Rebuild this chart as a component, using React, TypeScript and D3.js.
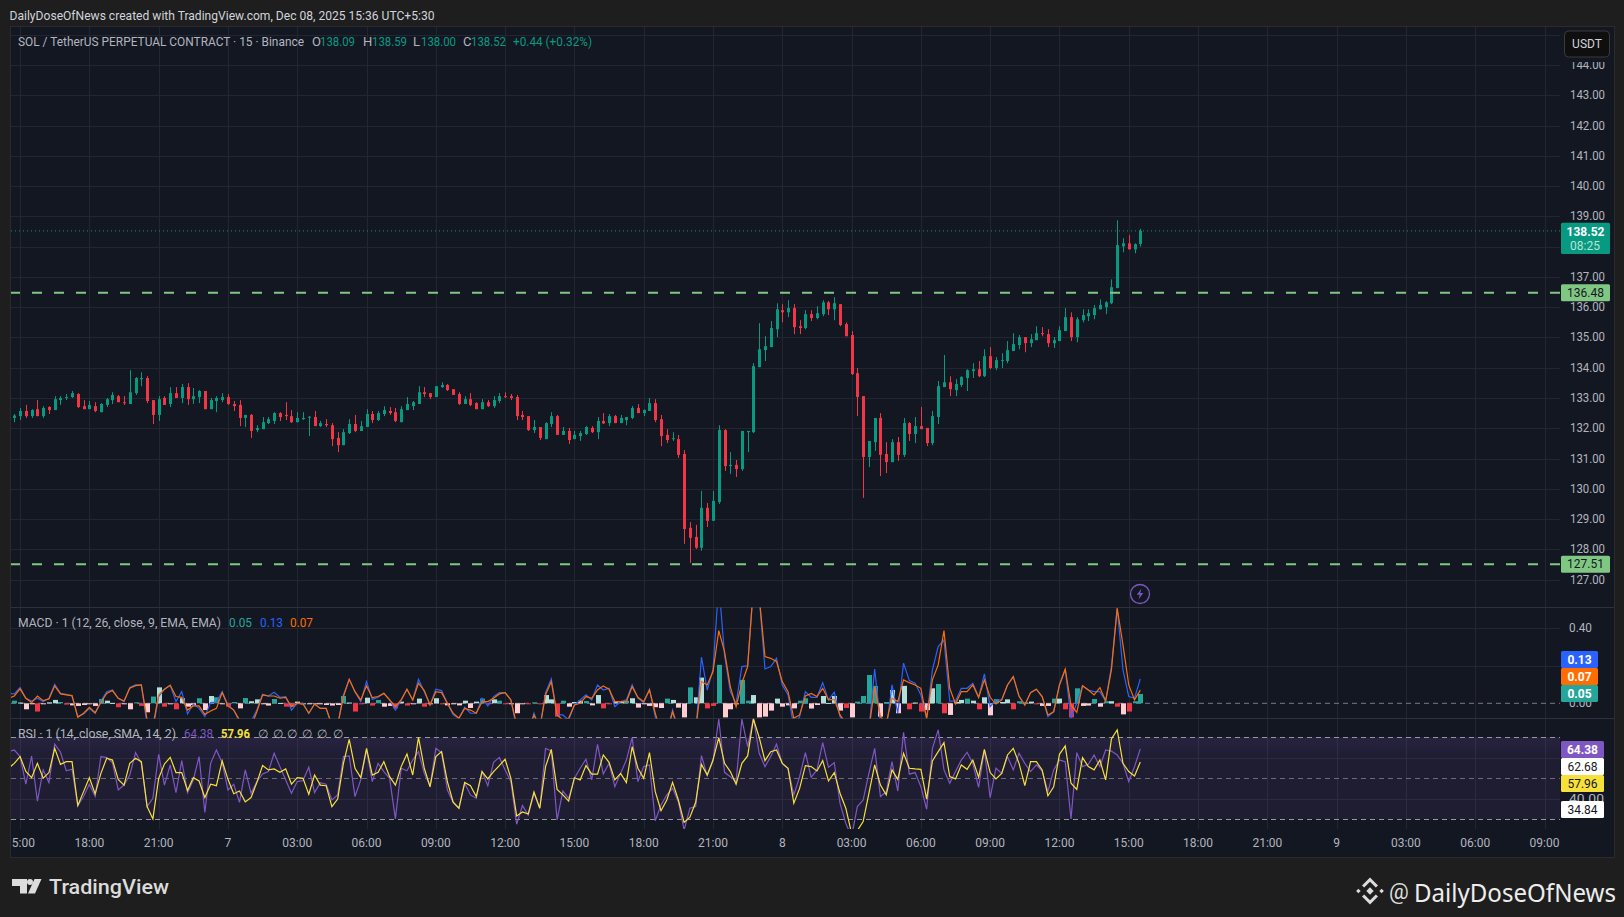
import React from 'react';
import * as d3 from 'd3';

// open, high, low, close of every 15 minute bar
const ohlc: number[][] = [
  [132.34,132.47,132.20,132.42],[132.40,132.67,132.27,132.57],[132.57,132.77,132.34,132.40],[132.40,132.63,132.34,132.60],
  [132.63,132.93,132.40,132.40],[132.40,132.73,132.34,132.67],[132.70,132.73,132.47,132.60],[132.60,133.06,132.60,132.96],
  [132.93,133.06,132.77,133.00],[133.00,133.13,132.93,133.03],[133.03,133.23,133.00,133.16],[133.13,133.16,132.67,132.70],
  [132.73,132.93,132.63,132.63],[132.63,132.90,132.63,132.77],[132.73,132.86,132.53,132.57],[132.53,132.83,132.53,132.80],
  [132.77,133.00,132.70,132.96],[132.93,133.19,132.80,133.10],[133.06,133.10,132.86,132.86],[132.86,133.06,132.77,132.83],
  [132.80,133.92,132.80,133.19],[133.16,133.69,133.10,133.66],[133.62,133.85,133.39,133.66],[133.66,133.72,132.83,132.90],
  [132.93,132.93,132.14,132.44],[132.44,133.06,132.24,132.96],[133.00,133.06,132.77,132.77],[132.80,133.36,132.70,133.16],
  [133.16,133.36,133.00,133.00],[133.00,133.46,132.83,133.36],[133.36,133.49,132.77,132.96],[132.96,133.33,132.80,133.06],
  [133.03,133.26,132.83,133.23],[133.23,133.23,132.63,132.63],[132.63,133.00,132.63,132.93],[132.90,133.06,132.53,133.00],
  [132.93,133.16,132.86,133.03],[133.03,133.13,132.77,132.80],[132.80,132.90,132.57,132.73],[132.77,132.93,132.07,132.34],
  [132.34,132.44,132.04,132.44],[132.44,132.47,131.68,131.91],[131.94,132.10,131.87,132.01],[131.97,132.37,131.97,132.20],
  [132.17,132.37,132.14,132.30],[132.24,132.53,132.14,132.50],[132.50,132.53,132.24,132.37],[132.44,132.86,132.27,132.40],
  [132.40,132.60,132.17,132.20],[132.20,132.53,132.20,132.34],[132.30,132.53,132.27,132.34],[132.36,132.40,131.74,132.38],
  [132.37,132.57,132.07,132.07],[132.07,132.24,132.04,132.17],[132.14,132.30,132.04,132.10],[132.10,132.17,131.41,131.64],
  [131.68,131.87,131.21,131.44],[131.44,131.97,131.44,131.87],[131.84,132.30,131.81,132.14],[132.14,132.44,131.87,131.91],
  [131.91,132.24,131.91,132.07],[132.04,132.63,132.04,132.47],[132.47,132.57,132.17,132.27],[132.27,132.57,132.24,132.50],
  [132.47,132.73,132.40,132.60],[132.57,132.70,132.44,132.50],[132.53,132.67,132.20,132.24],[132.20,132.73,132.20,132.63],
  [132.60,133.03,132.60,132.80],[132.73,132.90,132.60,132.86],[132.80,133.39,132.80,133.19],[133.19,133.36,133.03,133.13],
  [133.16,133.16,132.96,133.03],[133.03,133.39,133.03,133.39],[133.36,133.52,133.33,133.43],[133.43,133.46,133.23,133.26],
  [133.29,133.29,133.10,133.10],[133.13,133.19,132.77,132.80],[132.80,133.06,132.80,132.96],[132.96,133.16,132.73,132.77],
  [132.83,132.86,132.63,132.63],[132.63,132.96,132.63,132.86],[132.86,132.93,132.70,132.73],[132.73,133.06,132.67,132.93],
  [132.90,133.16,132.83,133.06],[133.06,133.19,133.00,133.03],[133.06,133.13,132.93,133.00],[133.03,133.10,132.27,132.40],
  [132.44,132.57,132.27,132.37],[132.40,132.40,131.91,131.94],[131.94,132.27,131.84,132.04],[132.04,132.04,131.61,131.68],
  [131.64,132.20,131.64,132.17],[132.14,132.53,132.04,132.40],[132.40,132.44,131.78,131.78],[131.78,132.04,131.78,131.91],
  [131.91,132.01,131.48,131.61],[131.64,131.91,131.64,131.78],[131.74,131.91,131.58,131.84],[131.81,132.07,131.78,132.04],
  [132.01,132.07,131.84,131.87],[131.87,132.37,131.64,132.24],[132.24,132.50,132.14,132.16],[132.17,132.47,132.07,132.40],
  [132.40,132.44,132.17,132.17],[132.17,132.44,132.17,132.34],[132.27,132.37,132.10,132.37],[132.34,132.73,132.30,132.67],
  [132.67,132.80,132.50,132.50],[132.50,132.63,132.40,132.60],[132.57,133.00,132.57,132.83],[132.83,132.96,132.20,132.27],
  [132.30,132.44,131.41,131.74],[131.78,131.97,131.51,131.61],[131.64,131.87,131.58,131.67],[131.64,131.78,131.02,131.12],
  [131.15,131.28,128.18,128.67],[128.71,128.90,127.55,128.38],[128.41,128.81,128.01,128.05],[128.05,129.93,127.95,129.37],
  [129.37,129.53,128.74,128.94],[128.94,129.93,128.94,129.60],[129.56,132.10,129.50,131.94],[131.94,131.97,130.59,130.75],
  [130.75,131.21,130.49,130.79],[130.79,130.95,130.39,130.65],[130.65,131.91,130.59,131.91],[131.87,131.91,131.21,131.91],
  [131.87,134.15,131.84,134.05],[134.02,135.47,134.02,134.61],[134.58,135.04,134.22,134.71],[134.68,135.54,134.68,135.31],
  [135.27,136.13,135.01,135.93],[135.90,136.10,135.50,135.83],[135.83,136.23,135.67,135.97],[135.97,136.10,135.11,135.34],
  [135.37,135.57,135.11,135.31],[135.31,135.90,135.27,135.77],[135.77,135.90,135.54,135.64],[135.64,136.03,135.60,135.80],
  [135.77,136.23,135.70,136.16],[136.16,136.20,135.74,135.93],[135.93,136.33,135.57,136.13],[136.10,136.10,135.37,135.41],
  [135.44,135.50,135.04,135.04],[135.08,135.21,133.76,133.79],[133.82,133.99,132.40,133.03],[133.06,133.06,129.70,131.05],
  [131.05,131.58,130.72,131.58],[131.54,132.34,131.25,132.34],[132.34,132.50,130.42,131.12],[131.15,131.54,130.52,130.88],
  [130.88,131.64,130.88,131.54],[131.54,131.71,130.92,131.12],[131.12,132.34,131.05,132.17],[132.17,132.20,131.58,131.81],
  [131.81,132.37,131.51,132.07],[132.07,132.70,131.97,131.97],[132.01,132.01,131.41,131.51],[131.51,132.57,131.44,132.40],
  [132.37,133.56,132.14,133.39],[133.36,134.42,133.36,133.52],[133.52,133.72,133.06,133.29],[133.26,133.62,133.06,133.46],
  [133.43,133.72,133.36,133.69],[133.66,133.95,133.23,133.92],[133.89,134.15,133.66,133.95],[133.95,134.22,133.69,133.72],
  [133.72,134.61,133.69,134.38],[134.38,134.68,133.95,133.99],[133.99,134.35,133.92,134.25],[134.22,134.48,133.99,134.25],
  [134.22,134.88,134.15,134.58],[134.55,135.14,134.55,134.78],[134.75,135.08,134.61,135.01],[135.01,135.01,134.51,134.81],
  [134.81,135.11,134.68,134.94],[134.91,135.37,134.91,135.14],[135.14,135.34,135.04,135.11],[135.11,135.27,134.68,134.81],
  [134.81,135.01,134.65,134.91],[134.88,135.37,134.88,135.24],[135.21,135.97,135.21,135.67],[135.67,135.83,134.88,135.01],
  [135.01,135.67,134.84,135.60],[135.57,135.93,135.50,135.74],[135.70,135.93,135.54,135.80],[135.74,136.07,135.60,135.97],
  [135.93,136.26,135.93,136.07],[136.00,136.20,135.77,136.16],[136.13,136.92,136.10,136.66],[136.63,138.87,136.63,138.05],
  [138.01,138.28,137.81,138.11],[138.11,138.38,137.91,137.91],[137.91,138.11,137.78,138.08],[138.09,138.59,138.00,138.52],
];

// first value of each line is the bar just off the left edge of the chart
const macdLine = [
  0.053,0.050,0.084,0.027,0.012,0.027,0.009,0.027,0.101,0.053,0.048,0.039,-0.071,-0.057,-0.027,-0.053,0.012,0.062,0.071,0.027,0.009,
  0.085,0.098,0.098,-0.116,-0.142,0.036,0.075,0.096,0.009,0.062,-0.057,-0.004,-0.027,-0.071,0.004,0.007,0.062,-0.009,-0.036,-0.098,
  -0.134,-0.098,-0.036,0.048,0.039,0.059,0.032,0.036,-0.036,0,0,-0.053,-0.004,-0.027,-0.027,-0.116,-0.116,0.045,0.128,0.062,
  0.009,0.116,0.021,0.032,0.053,0.018,-0.036,0.018,0.075,0.018,0.128,0.062,-0.009,0.075,0.068,0,-0.062,-0.080,-0.021,-0.053,
  -0.053,0.027,-0.014,0.036,0.057,0.057,0.018,-0.134,-0.160,-0.160,-0.053,-0.134,0.057,0.130,-0.062,-0.062,-0.089,-0.009,0.018,0.045,
  0.018,0.098,0.071,0.080,-0.018,0.009,0.018,0.098,0.027,0.004,0.075,-0.071,-0.160,-0.160,-0.036,-0.142,-0.160,-0.160,-0.160,0.246,
  0.071,0.178,0.641,0.258,0.062,0,0.196,0.201,0.623,0.570,0.183,0.196,0.240,0.098,0.045,-0.125,-0.071,0.062,0.032,0.032,
  0.110,0.018,0.059,-0.071,-0.107,-0.107,-0.125,-0.142,-0.142,0.182,-0.107,-0.142,0.098,-0.053,0.214,0.121,0.107,0.045,-0.080,0.178,
  0.303,0.338,0.012,0.012,0.080,0.080,0.107,0.032,0.157,-0.018,0.018,0.018,0.098,0.142,0.036,-0.009,0.057,0.075,0.036,-0.071,
  -0.045,0.098,0.182,-0.080,0,0.094,0.071,0.062,0.062,0.012,0.196,0.507,0.178,0.036,0.027,0.130,
];

const signalLine = [
  0.027,0.039,0.077,0.027,0.004,0.039,0.014,0.023,0.093,0.050,0.045,0.041,-0.075,-0.053,-0.021,-0.050,0.004,0.053,0.068,0.027,0.012,
  0.080,0.094,0.098,-0.089,-0.125,0.045,0.075,0.096,0.036,0.032,-0.036,-0.014,-0.014,-0.059,-0.041,-0.027,0.057,-0.014,-0.036,-0.089,
  -0.125,-0.125,-0.045,0.045,0.039,0.039,0.027,0.032,-0.018,0,-0.004,-0.053,-0.004,-0.027,-0.027,-0.116,-0.116,0.036,0.128,0.062,
  0.018,0.093,0.030,0.036,0.053,0.018,-0.018,0.018,0.075,0.018,0.107,0.068,-0.009,0.062,0.057,0,-0.053,-0.080,-0.027,-0.036,
  -0.053,0.009,0.009,0.027,0.050,0.057,0.018,-0.116,-0.160,-0.160,-0.062,-0.134,0.045,0.116,-0.062,-0.089,-0.080,-0.009,0,0.036,
  0.027,0.071,0.093,0.075,0.009,0.009,0.009,0.089,0.032,0.009,0.071,-0.053,-0.160,-0.160,-0.045,-0.142,-0.160,-0.160,-0.142,0.116,
  0.098,0.169,0.388,0.276,0.089,-0.018,0.107,0.196,0.623,0.570,0.249,0.240,0.223,0.116,0.062,-0.080,-0.062,0.039,0.053,0.036,
  0.080,0.018,0.021,-0.062,-0.107,-0.125,-0.142,-0.142,-0.142,0.089,-0.071,-0.107,0.027,0.009,0.125,0.110,0.098,0.080,-0.080,0.125,
  0.205,0.388,0.080,-0.004,0.062,0.062,0.098,0.032,0.125,0.032,-0.004,0.018,0.098,0.142,0.039,-0.009,0.057,0.075,0.036,-0.062,
  -0.045,0.098,0.182,-0.009,-0.048,0.094,0.071,0.045,0.084,0.012,0.178,0.507,0.312,0.098,0.018,0.070,
];

const macdHist = [
  0.014,0.004,-0.032,-0.002,-0.044,-0.005,0.005,0.018,0.007,-0.007,-0.011,-0.014,-0.009,-0.002,-0.014,0.023,0.014,0.002,-0.021,-0.002,
  -0.032,0.005,-0.014,-0.048,0.036,0.085,-0.018,-0.002,-0.032,0.027,-0.018,-0.009,0.027,-0.036,0.039,0.032,-0.002,-0.018,0.007,-0.027,
  0.028,0.011,0.021,-0.005,-0.012,0.023,0.002,-0.018,-0.018,0.009,0,-0.004,-0.002,-0.004,-0.009,-0.012,-0.009,0.039,0.004,-0.044,
  -0.005,0.030,-0.012,0.018,-0.018,-0.014,-0.027,0.009,-0.012,-0.005,0.025,-0.018,0,0.027,-0.005,-0.011,-0.005,-0.011,0.014,-0.025,
  0.009,0.025,-0.005,0.021,0.014,-0.005,-0.002,-0.053,-0.001,-0.002,0.005,-0.005,0.044,0.021,-0.071,0.014,-0.018,0.007,0.014,0.012,
  -0.011,0.044,-0.027,-0.002,0.011,0.011,0.014,0.027,-0.023,-0.001,-0.014,-0.021,-0.025,0.025,0.018,-0.023,-0.075,0.085,0.032,0.137,
  -0.027,-0.014,0.205,-0.075,-0.032,-0.002,0.125,0.014,0.044,-0.075,-0.071,-0.039,0.025,-0.018,-0.011,-0.027,0.014,0.027,-0.028,-0.009,
  0.039,0.002,0.039,-0.039,-0.025,-0.075,0.009,0.039,0.151,0.093,-0.071,0.007,0.071,-0.053,0.093,-0.032,0.004,-0.044,-0.036,0.080,
  0.103,-0.053,-0.062,0.007,0.018,0.025,0.014,-0.032,0.032,-0.064,0.023,0.007,0.021,-0.032,0.011,0.004,0.009,-0.005,-0.014,-0.014,
  0.025,0.025,-0.032,-0.075,0.080,-0.014,-0.012,0.023,-0.018,0.011,0.011,-0.018,-0.059,-0.044,0.011,0.05,
];

// g grow above, l fall above, p rise below, r fall below
const histState = [
  'g','l','p','p','r','p','l','l','g','r','p','p','p','p','p','g','l','l','r','p',
  'p','g','r','p','g','l','r','p','r','l','p','p','g','p','l','g','p','r','g','p',
  'g','l','l','p','p','g','l','r','r','l','l','p','p','p','p','p','p','g','l','r',
  'r','l','r','g','p','p','r','l','r','p','l','r','p','l','r','p','p','p','l','p',
  'l','g','r','l','g','r','p','p','p','r','g','r','l','l','r','g','p','l','l','g',
  'p','l','r','r','l','l','g','l','p','p','p','p','p','g','l','p','p','g','l','l',
  'r','r','g','p','p','p','g','g','l','p','p','p','l','p','p','p','g','g','p','p',
  'l','l','l','p','r','p','g','g','g','g','p','g','l','p','l','r','l','r','p','l',
  'g','r','p','l','l','g','l','r','l','p','g','l','l','r','g','l','l','r','p','p',
  'g','l','r','r','g','p','p','g','p','g','l','r','p','r','g','g',
];

const rsiLine = [
  63,63.8,60.6,47.1,60.9,38.9,54.1,47.9,66.7,62.7,53.7,54.4,36.7,41.1,47.1,41.1,60.6,60.1,57.6,44.3,46.7,
  51.6,62.5,57.3,36.2,40.2,61.7,46.7,56.5,43,58.6,43,49.2,60.6,33.3,57.3,63.8,57.6,44.3,47.1,38.3,
  54.1,42.7,48.4,52.1,53.3,62.2,55.7,49.2,42.7,48.4,48.9,55.4,43,47.9,47.1,39.4,41.9,60.6,60.9,41.1,
  49.2,63.8,48.4,57.3,53.3,50,30.2,54.9,53.7,58.9,63,52.4,46.3,64.6,62.5,44.3,38.3,35.4,47.6,41.9,
  40.2,53.3,46.3,57.8,60.2,54.1,48.4,27.6,36.7,32.1,42.7,35.4,64.6,63.3,29.7,43.8,40.2,50,54.9,59.3,
  49.2,66.6,52.1,57.3,45.9,52.4,58.9,69.8,48.4,55.7,56.5,29.3,37,41.9,45.1,38.6,24.8,35.4,36.2,61.1,
  51.3,58.5,78.9,52.9,50.8,48.4,78.9,65.4,79.3,62.2,55.7,60.6,66.6,57.3,54.6,41.9,50.8,62.5,50.5,54.1,
  67.4,55.4,57.6,37.8,28,21.5,36.2,39.4,52.4,64.6,41.1,43.5,58.1,43.8,72.4,52,52.8,45.9,34.9,64.6,
  73.6,54.1,47.6,53.3,58.9,62.7,57.3,45.6,63.8,40.6,54.9,52.4,60.6,54.1,62.2,57.3,53.3,56.5,53.6,43.5,
  54.1,58.9,58.1,30.2,62.5,55.7,56.8,61.4,55.7,63.8,63.3,61.4,57.3,48.4,55.7,64.38,
];

const rsiMa = [
  54.9,57.3,60.6,53.3,50.3,57.3,50,52.8,64.6,56.8,58.1,58.1,36.7,43.5,50.3,42.4,52.4,59.8,58.9,49.5,46.7,
  57.3,59.8,58.1,36.2,30.2,50,57,60.2,52.8,52.8,44,50.3,48.7,40.6,47.1,46.4,58.5,49.5,42.5,43.8,
  38.5,40.6,47.9,56.2,54.1,54.6,52.9,54.6,47.2,50.3,50,42.2,51.6,46.7,46.4,36.2,39.9,57.3,69,54.9,
  50.3,64.6,51.6,52.9,58.1,50.8,46.7,55.7,61.9,51.6,70,54.9,45.9,60.6,63,48.4,38.3,35.4,48,46.4,
  41.1,53.3,49.7,53.3,56.2,59.3,50,31.6,33.6,32.6,43.3,35.4,55.7,64.1,44.6,41.9,38.9,50.3,49.2,56.2,
  52,52,61.4,57.8,49.2,52.4,47.9,65.4,54.9,50,62.5,43.5,34.2,39.4,48,39.4,28.5,31,38.3,56.8,
  51.6,58.9,69.8,57.3,53.3,47.1,57.3,60.9,78.9,70,58.6,63,63.8,57.3,54.9,37.8,45.1,56.2,55.7,53.6,
  58.6,48.7,52.8,42.7,35.4,23.2,24.5,28.9,42.7,56.5,46.7,41.9,54.1,49.5,62.2,54.9,54.6,54.4,39.8,58.5,
  63,67.4,50.8,49.7,56.5,54.4,58.9,50.5,64.1,52.8,49.7,52.4,61.4,64.6,57.3,46.4,58.1,58.1,54.1,41.5,
  45.9,61.7,65.8,47.6,44.6,60.1,55.7,54.1,58.9,49.2,69.2,73.6,57.3,53.3,51.1,57.96,
];

const priceGrid = d3.range(127, 146);
const priceLabels = [127,128,129,130,131,132,133,134,135,136,137,139,140,141,142,143,144];
const priceLevels = [136.48, 127.51];
const lastPrice = 138.52;
const macdTicks = [0.2, 0.4];
const macdLabels = [0, 0.4];
const rsiGrid = [40, 60];
const rsiBands = [30, 50, 70];
const timeLabels = ['15:00','18:00','21:00','7','03:00','06:00','09:00','12:00','15:00','18:00','21:00','8',
  '03:00','06:00','09:00','12:00','15:00','18:00','21:00','9','03:00','06:00','09:00'];
const ohlcLegend = [['O', 312, '138.09', 320], ['H', 363, '138.59', 372], ['L', 413, '138.00', 421], ['C', 463, '138.52', 471]];

const W = 1624, H = 917;
const left = 11, plotRight = 1560, panelRight = 1614, top = 27, macdTop = 607.5, rsiTop = 718.5, plotBottom = 829, panelBottom = 857;
const font = 'Roboto, "Noto Sans", sans-serif';
const UP = '#089981', DOWN = '#f23645', GRID = '#232631', TXT = '#b2b5be', LEVEL = '#81c784';
const BLUE = '#2962ff', ORANGE = '#ff6d00', TEAL = '#26a69a', PURPLE = '#7e57c2', YELLOW = '#f7e03a';

const x = d3.scaleLinear().domain([0, 195]).range([14.3, 1140.3]);
const y = d3.scaleLinear().domain([128, 143]).range([549.3, 95.3]);
const macdY = d3.scaleLinear().domain([0, 0.4]).range([703.3, 628.3]);
const rsiY = d3.scaleLinear().domain([30, 70]).range([819.3, 737.3]);
const histColor = d3.scaleOrdinal<string, string>().domain(['g', 'l', 'p', 'r']).range([TEAL, '#b2dfdb', '#ffcdd2', '#f23645']);

const snap = (v: number) => Math.round(v) + 0.5;
// line arrays start one bar before the first candle
const lineOf = (scale: d3.ScaleLinear<number, number>) =>
  d3.line<number>().x((_, i) => x(i - 1)).y((d) => scale(d));

const Txt = ({ x: tx, y: ty, w, fill = TXT, size = 12, weight = 400, anchor = 'start', children }: any) => (
  <text x={tx} y={ty} fill={fill} fontSize={size} fontWeight={weight} textAnchor={anchor} dominantBaseline="central"
    fontFamily={font} textLength={w} lengthAdjust={w ? 'spacingAndGlyphs' : undefined}>{children}</text>
);

// coloured price tag on the right axis
const Tag = ({ y0, y1, w = 49, fill, color = '#fff', weight = 400, children }: any) => (
  <g>
    <rect x={1561} y={y0} width={w} height={y1 - y0} fill={fill} rx={1.5} />
    <Txt x={1561 + w / 2} y={(y0 + y1) / 2} fill={color} anchor="middle" weight={weight}>{children}</Txt>
  </g>
);

export default function App() {
  const tickX = timeLabels.map((_, i) => x(1 + i * 12));
  return (
    <div style={{ position: 'absolute', left: 0, top: 0 }}>
      <svg width={W} height={H} style={{ display: 'block' }}>
        <defs>
          <clipPath id="panel"><rect x={left} y={top} width={panelRight - left} height={panelBottom - top} /></clipPath>
          <clipPath id="main"><rect x={left} y={top} width={plotRight - left} height={macdTop - top} /></clipPath>
          <clipPath id="macd"><rect x={left} y={macdTop} width={plotRight - left} height={rsiTop - macdTop} /></clipPath>
          <clipPath id="rsi"><rect x={left} y={rsiTop} width={plotRight - left} height={plotBottom - rsiTop} /></clipPath>
          <linearGradient id="obFade" x1="0" x2="0" y1="0" y2="1">
            <stop offset="0" stopColor={PURPLE} stopOpacity={0.1} />
            <stop offset="1" stopColor={PURPLE} stopOpacity={0} />
          </linearGradient>
        </defs>
        <rect width={W} height={H} fill="#1e1e1e" />
        <rect x={left - 0.5} y={top - 0.5} width={panelRight - left + 1} height={panelBottom - top + 1} fill="#131722" stroke="#2b2b2b" />

        <Txt x={9.5} y={15} fill="#d1d4dc" w={425} size={13}>DailyDoseOfNews created with TradingView.com, Dec 08, 2025 15:36 UTC+5:30</Txt>

        {/* grid */}
        <g stroke={GRID}>
          {tickX.map((tx, i) => <line key={i} x1={snap(tx)} x2={snap(tx)} y1={top} y2={plotBottom} />)}
          {priceGrid.map((t) => <line key={t} x1={left} x2={plotRight} y1={snap(y(t))} y2={snap(y(t))} />)}
          {macdTicks.map((t) => <line key={t} x1={left} x2={plotRight} y1={snap(macdY(t))} y2={snap(macdY(t))} />)}
          {rsiGrid.map((t) => <line key={t} x1={left} x2={plotRight} y1={snap(rsiY(t))} y2={snap(rsiY(t))} />)}
        </g>
        <g stroke="#2e313b">
          <line x1={left} x2={panelRight} y1={macdTop} y2={macdTop} />
          <line x1={left} x2={panelRight} y1={rsiTop} y2={rsiTop} />
        </g>

        {/* candles */}
        <g clipPath="url(#main)">
          {ohlc.map(([o, h, l, c], i) => {
            const col = c >= o ? UP : DOWN;
            const cx = Math.round(x(i));
            const yTop = y(Math.max(o, c));
            return (
              <g key={i} fill={col}>
                <rect x={cx} y={y(h)} width={1} height={y(l) - y(h)} />
                <rect x={cx - 1} y={yTop} width={3} height={Math.max(1, y(Math.min(o, c)) - yTop)} />
              </g>
            );
          })}
          {priceLevels.map((p) => (
            <line key={p} x1={10} x2={plotRight} y1={y(p)} y2={y(p)} stroke={LEVEL} strokeWidth={2} strokeDasharray="10 12" />
          ))}
          <line x1={left} x2={plotRight} y1={y(lastPrice)} y2={y(lastPrice)} stroke={UP} strokeDasharray="1 3" />
        </g>

        {/* macd pane */}
        <g clipPath="url(#macd)">
          <line x1={left} x2={plotRight} y1={macdY(0)} y2={macdY(0)} stroke="#787b86" strokeDasharray="5 4" />
          {macdHist.map((v, i) => {
            const y0 = macdY(Math.max(v, 0));
            return <rect key={i} x={Math.round(x(i)) - 2} width={5} y={y0} height={Math.max(1, macdY(Math.min(v, 0)) - y0)} fill={histColor(histState[i])} />;
          })}
          <path d={lineOf(macdY)(macdLine) as string} fill="none" stroke={BLUE} strokeWidth={1.2} />
          <path d={lineOf(macdY)(signalLine) as string} fill="none" stroke={ORANGE} strokeWidth={1.2} />
        </g>

        {/* rsi pane */}
        <rect x={left} y={rsiY(70)} width={plotRight - left} height={rsiY(30) - rsiY(70)} fill={PURPLE} fillOpacity={0.1} />
        <rect x={left} y={rsiY(70)} width={plotRight - left} height={rsiY(60) - rsiY(70)} fill="url(#obFade)" />
        {rsiBands.map((t) => (
          <line key={t} x1={left} x2={plotRight} y1={snap(rsiY(t))} y2={snap(rsiY(t))} stroke={t === 50 ? '#6a6d78' : '#9598a1'} strokeDasharray="5 4" />
        ))}
        <g clipPath="url(#rsi)">
          <path d={lineOf(rsiY)(rsiLine) as string} fill="none" stroke={PURPLE} strokeWidth={1.2} />
          <path d={lineOf(rsiY)(rsiMa) as string} fill="none" stroke={YELLOW} strokeWidth={1.2} />
        </g>

        {/* legends */}
        <Txt x={18} y={41.5} w={286} size={13}>SOL / TetherUS PERPETUAL CONTRACT · 15 · Binance</Txt>
        {ohlcLegend.map(([k, kx, v, vx]: any) => (
          <g key={k}>
            <Txt x={kx} y={41.5} size={13}>{k}</Txt>
            <Txt x={vx} y={41.5} fill={UP} w={35} size={13}>{v}</Txt>
          </g>
        ))}
        <Txt x={513} y={41.5} fill={UP} w={79} size={13}>+0.44 (+0.32%)</Txt>

        <Txt x={18} y={622.5} w={203}>MACD · 1 (12, 26, close, 9, EMA, EMA)</Txt>
        <Txt x={229} y={622.5} fill={TEAL} w={23}>0.05</Txt>
        <Txt x={260} y={622.5} fill={BLUE} w={23}>0.13</Txt>
        <Txt x={290} y={622.5} fill={ORANGE} w={23}>0.07</Txt>

        <Txt x={18} y={734} w={158}>RSI · 1 (14, close, SMA, 14, 2)</Txt>
        <Txt x={184} y={734} fill={PURPLE} w={29}>64.38</Txt>
        <Txt x={221} y={734} fill={YELLOW} w={29} weight={700}>57.96</Txt>
        {[263, 278, 292, 307, 322, 338].map((tx) => <Txt key={tx} x={tx} y={734} anchor="middle">∅</Txt>)}

        {/* price scale */}
        {priceLabels.map((t) => <Txt key={t} x={1570} y={y(t)} w={35}>{t.toFixed(2)}</Txt>)}
        {macdLabels.map((t) => <Txt key={t} x={1569} y={macdY(t)} w={23}>{t.toFixed(2)}</Txt>)}
        <Txt x={1569} y={rsiY(40)} w={35}>40.00</Txt>

        <rect x={1562} y={27} width={50} height={35} fill="#131722" />
        <rect x={1564.5} y={31} width={45} height={26} rx={4} fill="#0f0f0f" stroke="#3a3a3a" />
        <Txt x={1587} y={44} fill="#d1d4dc" anchor="middle">USDT</Txt>

        <rect x={1561} y={222.7} width={49} height={31.3} fill={UP} rx={1.5} />
        <Txt x={1585.5} y={231.5} fill="#fff" anchor="middle" weight={700}>{lastPrice.toFixed(2)}</Txt>
        <Txt x={1585} y={246} fill="#b5e4da" anchor="middle">08:25</Txt>
        {priceLevels.map((p) => <Tag key={p} y0={y(p) - 8.5} y1={y(p) + 8.5} fill={LEVEL} color="#131722">{p.toFixed(2)}</Tag>)}

        <Tag y0={651} y1={668} w={37} fill={BLUE} weight={700}>0.13</Tag>
        <Tag y0={668} y1={685} w={37} fill={ORANGE} weight={700}>0.07</Tag>
        <Tag y0={685} y1={702} w={37} fill={TEAL} weight={700}>0.05</Tag>

        <Tag y0={741} y1={758} w={43} fill={PURPLE} weight={700}>64.38</Tag>
        <Tag y0={758} y1={775} w={43} fill="#fff" color="#131722">62.68</Tag>
        <Tag y0={775} y1={792} w={43} fill={YELLOW} color="#131722">57.96</Tag>
        <Tag y0={801} y1={818} w={43} fill="#fff" color="#131722">34.84</Tag>

        {/* time scale */}
        <g clipPath="url(#panel)">
          {timeLabels.map((t, i) => <Txt key={i} x={tickX[i]} y={843} anchor="middle">{t}</Txt>)}
        </g>

        {/* lightning marker */}
        <circle cx={1140} cy={594} r={9.5} fill="#131722" stroke={PURPLE} strokeWidth={1.3} />
        <path d="M1141.5 588.5 L1136.8 594.8 H1139.8 L1138.5 599.5 L1143.2 593 H1140.2 Z" fill={PURPLE} />

        {/* footer */}
        <g fill="#dcdcdc">
          <path d="M12 879 H27 V893.5 H20 V886 H12 Z" />
          <circle cx={30} cy={882} r={3} />
          <path d="M34.5 879 H41.5 L35 893.5 H28 Z" />
        </g>
        <Txt x={49} y={887} fill="#dcdcdc" size={21} weight={500} w={120}>TradingView</Txt>
        <g fill="#dcdcdc" transform="translate(1370 891)">
          <rect x={-2.6} y={-2.6} width={5.2} height={5.2} transform="rotate(45)" />
          <rect x={-13.2} y={-1.6} width={3.2} height={3.2} transform="rotate(45 -11.6 0)" />
          <rect x={10} y={-1.6} width={3.2} height={3.2} transform="rotate(45 11.6 0)" />
          <path d="M0 -13.5 L8 -5.5 L5.8 -3.5 L0 -9.2 L-5.8 -3.5 L-8 -5.5 Z" />
          <path d="M0 13.5 L8 5.5 L5.8 3.5 L0 9.2 L-5.8 3.5 L-8 5.5 Z" />
        </g>
        <Txt x={1389} y={891} fill="#dcdcdc" size={22}>@</Txt>
        <text x={1414} y={892} fill="#ededed" fontSize={25} fontFamily='"Noto Sans", sans-serif' dominantBaseline="central" textLength={202} lengthAdjust="spacingAndGlyphs">DailyDoseOfNews</text>
      </svg>
    </div>
  );
}
